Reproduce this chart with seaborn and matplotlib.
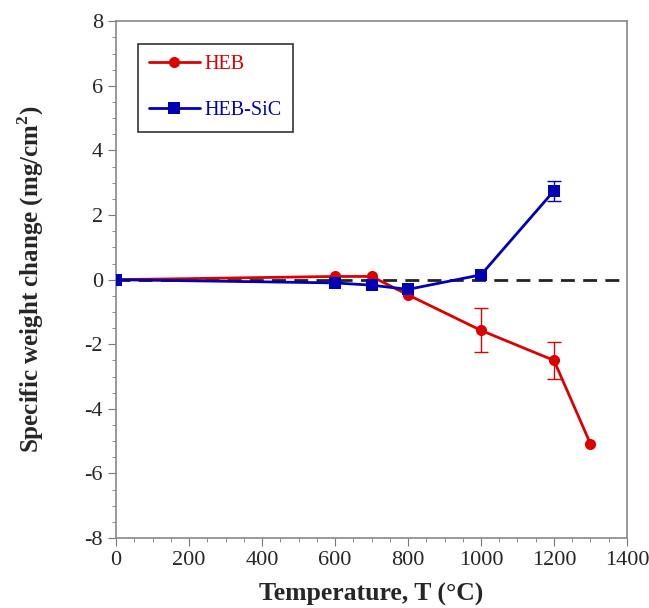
import matplotlib

matplotlib.use("Agg")
import matplotlib.pyplot as plt
import numpy as np
import pandas as pd
import seaborn as sns
from matplotlib.ticker import MultipleLocator

# data
temp_heb = [0, 600, 700, 800, 1000, 1200, 1300]
dw_heb = [0.0, 0.1, 0.1, -0.47, -1.57, -2.5, -5.08]
err_heb = [0, 0, 0, 0, 0.68, 0.57, 0]

temp_sic = [0, 600, 700, 800, 1000, 1200]
dw_sic = [0.0, -0.1, -0.17, -0.3, 0.15, 2.75]
err_sic = [0, 0, 0, 0, 0, 0.32]

RED = "#dd0000"
BLUE = "#0000b4"


def main() -> None:
    sns.set_style("ticks")
    plt.rcParams["font.family"] = ["Liberation Serif", "DejaVu Serif"]
    plt.rcParams["axes.unicode_minus"] = False

    df = pd.concat([
        pd.DataFrame({"T": temp_heb, "dw": dw_heb, "Sample": "HEB"}),
        pd.DataFrame({"T": temp_sic, "dw": dw_sic, "Sample": "HEB-SiC"}),
    ])

    fig = plt.figure(figsize=(6.49, 6.08), dpi=100)
    ax = fig.add_axes([0.179, 0.115, 0.787, 0.85])

    ax.axhline(0, color="#222222", ls=(0, (5, 3)), lw=2, zorder=1)

    sns.lineplot(
        data=df, x="T", y="dw", hue="Sample", style="Sample",
        palette={"HEB": RED, "HEB-SiC": BLUE},
        markers={"HEB": "o", "HEB-SiC": "s"}, dashes=False,
        markersize=8, linewidth=2, markeredgewidth=0,
        ax=ax, zorder=3,
    )

    for t, y, e, c in [(temp_heb, dw_heb, err_heb, RED), (temp_sic, dw_sic, err_sic, BLUE)]:
        t, y, e = np.array(t), np.array(y), np.array(e)
        m = e > 0
        ax.errorbar(t[m], y[m], yerr=e[m], fmt="none", ecolor=c,
                    elinewidth=1, capsize=5, capthick=1, zorder=2)

    ax.set_xlim(0, 1400)
    ax.set_ylim(-8, 8)
    ax.xaxis.set_major_locator(MultipleLocator(200))
    ax.xaxis.set_minor_locator(MultipleLocator(50))
    ax.yaxis.set_major_locator(MultipleLocator(2))
    ax.yaxis.set_minor_locator(MultipleLocator(0.5))
    ax.tick_params(which="both", direction="out", color="#777777", labelsize=16)
    ax.tick_params(which="major", length=6)
    ax.tick_params(which="minor", length=3)
    for s in ax.spines.values():
        s.set_visible(True)
        s.set_color("#888888")
        s.set_linewidth(1.2)

    ax.set_xlabel("Temperature, T (°C)", fontsize=18.5, fontweight="bold", labelpad=9)
    ax.set_ylabel("Specific weight change (mg/cm$^\\mathregular{2}$)", fontsize=18,
                  fontweight="bold", labelpad=28)

    leg = ax.legend(loc="upper left", bbox_to_anchor=(0.043, 0.956), fontsize=14.5,
                    frameon=True, fancybox=False, edgecolor="black",
                    handlelength=2.5, handletextpad=0.25, borderpad=0.55,
                    labelspacing=1.35, borderaxespad=0)
    leg.get_frame().set_linewidth(1.2)
    for txt, c in zip(leg.get_texts(), [RED, BLUE]):
        txt.set_color(c)

    fig.savefig("out.png", dpi=100)
    plt.close(fig)


if __name__ == "__main__":
    main()
